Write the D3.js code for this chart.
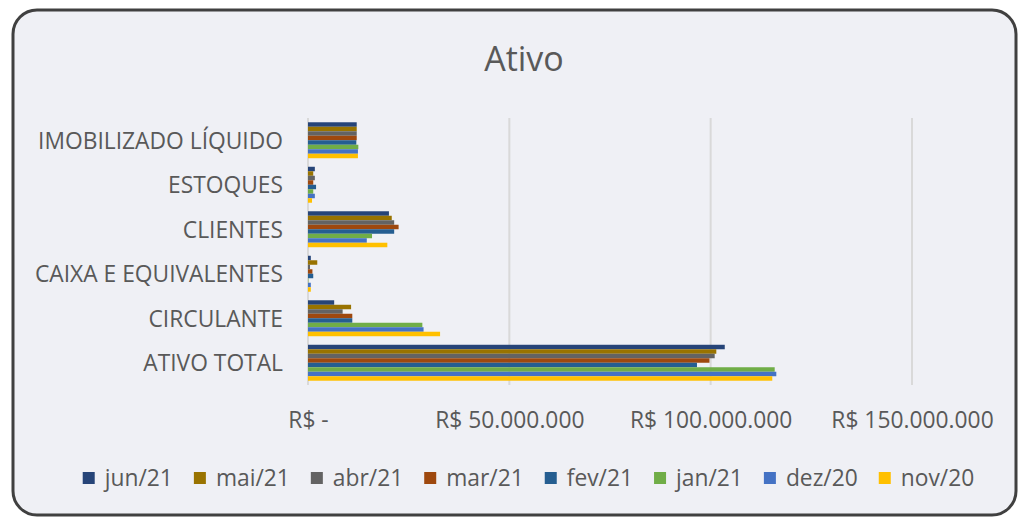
<!DOCTYPE html>
<html lang="pt">
<head>
    <meta charset="UTF-8">
    <title>Ativo</title>
    <script src="https://cdn.jsdelivr.net/npm/d3@7"></script>
    <style>
        body { margin: 0; background: #fff; }
        text { font-family: 'Open Sans', sans-serif; fill: #595959; }
    </style>
</head>
<body>
<script>
    // categorias de cima para baixo, como aparecem no gráfico
    const categories = ['IMOBILIZADO LÍQUIDO', 'ESTOQUES', 'CLIENTES', 'CAIXA E EQUIVALENTES', 'CIRCULANTE', 'ATIVO TOTAL']
    const seriesNames = ['jun/21', 'mai/21', 'abr/21', 'mar/21', 'fev/21', 'jan/21', 'dez/20', 'nov/20']
    const seriesColors = ['#264478', '#997300', '#636363', '#9e480e', '#255e91', '#70ad47', '#4472c4', '#ffc000']
    // valores em milhões de R$, na ordem das categorias
    const jun21 = [12.1, 1.7, 20.1, 0.7, 6.5, 103.5]
    const mai21 = [12.1, 1.3, 20.8, 2.3, 10.7, 101.4]
    const abr21 = [12.1, 1.7, 21.4, 0.5, 8.6, 101.0]
    const mar21 = [12.1, 1.3, 22.5, 1.1, 11.0, 99.7]
    const fev21 = [12.0, 2.0, 21.4, 1.3, 11.0, 96.6]
    const jan21 = [12.5, 1.3, 15.9, 0.1, 28.4, 115.9]
    const dez20 = [12.4, 1.7, 14.6, 0.7, 28.7, 116.3]
    const nov20 = [12.4, 1.0, 19.7, 0.7, 32.8, 115.3]
    const seriesValues = [jun21, mai21, abr21, mar21, fev21, jan21, dez20, nov20]
    const xTicks = [0, 50, 100, 150]

    const [width, height] = [1018, 517]
    const plot = {left: 308, right: 912, top: 118, bottom: 385}
    const labelSize = 22.8

    const svg = d3.select('body').append('svg')
        .attr('width', width)
        .attr('height', height)

    svg.append('rect')
        .attr('x', 13).attr('y', 10)
        .attr('width', 1003).attr('height', 505)
        .attr('rx', 24)
        .attr('fill', '#eff0f5')
        .attr('stroke', '#404040')
        .attr('stroke-width', 3)

    svg.append('text')
        .attr('x', 524).attr('y', 71)
        .attr('text-anchor', 'middle')
        .attr('font-size', 34)
        .text('Ativo')

    const x = d3.scaleLinear().domain([0, 150]).range([plot.left, plot.right])
    const y0 = d3.scaleBand().domain(categories).range([plot.top, plot.bottom])
    const y1 = d3.scaleBand().domain(seriesNames).range([0, y0.bandwidth()]).paddingOuter(0.95)

    // linhas de grade
    svg.append('g').selectAll('line').data(xTicks).join('line')
        .attr('x1', d => x(d)).attr('x2', d => x(d))
        .attr('y1', plot.top).attr('y2', plot.bottom)
        .attr('stroke', '#d9d9d9')
        .attr('stroke-width', 2)

    const fmt = d => d === 0 ? 'R$ -' : 'R$ ' + d3.format(',')(d * 1e6).replace(/,/g, '.')
    const xAxis = d3.axisBottom(x).tickValues(xTicks).tickFormat(fmt).tickSize(0).tickPadding(0)
    const gx = svg.append('g').attr('transform', `translate(0, ${plot.bottom + 43})`).call(xAxis)
    gx.select('.domain').remove()
    gx.selectAll('text').attr('font-size', labelSize).attr('dy', 0).attr('fill', '#595959')
        .style('font-family', "'Open Sans', sans-serif")

    const yAxis = d3.axisLeft(y0).tickSize(0).tickPadding(25)
    const gy = svg.append('g').attr('transform', `translate(${plot.left}, 1)`).call(yAxis)
    gy.select('.domain').remove()
    gy.selectAll('text').attr('font-size', labelSize).attr('fill', '#595959')
        .style('font-family', "'Open Sans', sans-serif")

    seriesNames.forEach((name, i) => {
        svg.append('g').selectAll('rect').data(seriesValues[i]).join('rect')
            .attr('x', x(0))
            .attr('y', (d, j) => y0(categories[j]) + y1(name))
            .attr('width', d => x(d) - x(0))
            .attr('height', y1.bandwidth())
            .attr('fill', seriesColors[i])
    })

    // legenda
    const legend = svg.append('g')
    let lx = 0
    seriesNames.forEach((name, i) => {
        const item = legend.append('g').attr('transform', `translate(${lx}, 0)`)
        item.append('rect').attr('x', 0).attr('y', -14).attr('width', 12).attr('height', 12)
            .attr('fill', seriesColors[i])
        const t = item.append('text').attr('x', 22).attr('y', 0).attr('font-size', labelSize).text(name)
        lx += 22 + t.node().getComputedTextLength() + 21
    })
    const legendWidth = lx - 21
    legend.attr('transform', `translate(${(85 + 972) / 2 - legendWidth / 2}, 486)`)
</script>
</body>
</html>
